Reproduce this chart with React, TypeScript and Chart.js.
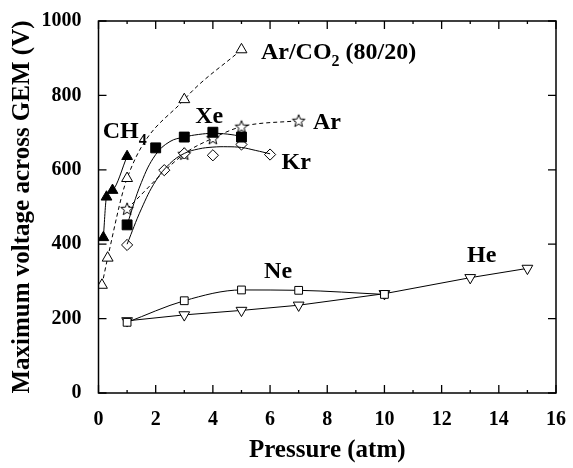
import React, { useEffect, useRef } from "react";
import { Chart, registerables } from "chart.js";

Chart.register(...registerables);

// ---- data (pressure in atm, max voltage in V) ----
const arco2Pressure = [0.12, 0.32, 1, 3, 5];
const arco2Voltage = [290, 363, 577, 789, 923];

const ch4Pressure = [0.17, 0.28, 0.49, 1];
const ch4Voltage = [418, 527, 545, 636];

const xePressure = [1, 2, 3, 4, 5];
const xeVoltage = [452, 659, 688, 701, 688];
const xeFitPressure = [1, 1.5, 2, 2.5, 3, 3.5, 4, 4.5, 5];
const xeFitVoltage = [452, 566, 641, 676, 688, 695, 698, 696, 690];

const arPressure = [1, 3, 4, 5, 7];
const arVoltage = [495, 643, 685, 716, 732];

const krPressure = [1, 2.3, 3, 4, 5, 6];
const krVoltage = [398, 599, 644, 639, 668, 641];
const krFitPressure = [1, 1.5, 2, 2.5, 3, 3.5, 4, 4.5, 5, 5.5, 6];
const krFitVoltage = [400, 495, 570, 617, 644, 656, 661, 662, 660, 652, 643];

const nePressure = [1, 3, 5, 7, 10];
const neVoltage = [190, 248, 277, 276, 265];

const hePressure = [1, 3, 5, 7, 10, 13, 15];
const heVoltage = [194, 210, 222, 236, 267, 310, 335];

const xRange = [0, 16];
const yRange = [0, 1000];
const xStep = 2;
const yStep = 200;

const xTitle = "Pressure (atm)";
const yTitle = "Maximum voltage across GEM (V)";

// series labels: main text, subscript, trailing text, anchored in data units
const labelTexts = ["Ar/CO", "Xe", "CH", "Ar", "Kr", "Ne", "He"];
const labelSubs = ["2", "", "4", "", "", "", ""];
const labelTails = [" (80/20)", "", "", "", "", "", ""];
const labelX = [5.68, 3.38, 0.15, 7.5, 6.4, 5.79, 12.89];
const labelY = [898, 725, 685, 709, 601, 309, 351];

const FONT = "'Liberation Serif', 'Times New Roman', Times, serif";

const zip = (xs: number[], ys: number[]) => xs.map((x, i) => ({ x, y: ys[i] }));

function makeStar(): HTMLCanvasElement {
  const c = document.createElement("canvas");
  c.width = 16;
  c.height = 16;
  const g = c.getContext("2d")!;
  const cx = 8, cy = 8.5, ro = 6.6, ri = 2.8;
  g.beginPath();
  for (let i = 0; i < 10; i++) {
    const r = i % 2 === 0 ? ro : ri;
    const a = -Math.PI / 2 + (i * Math.PI) / 5;
    const px = cx + r * Math.cos(a);
    const py = cy + r * Math.sin(a);
    if (i === 0) g.moveTo(px, py);
    else g.lineTo(px, py);
  }
  g.closePath();
  g.fillStyle = "#fff";
  g.fill();
  g.strokeStyle = "#000";
  g.lineWidth = 1;
  g.stroke();
  return c;
}

const framePlugin = {
  id: "frame",
  afterDraw(chart: any) {
    const { ctx, chartArea, scales } = chart;
    const { left, right, top, bottom } = chartArea;
    const x = scales.x;
    const y = scales.y;
    ctx.save();
    ctx.strokeStyle = "#000";
    ctx.lineWidth = 1.5;
    ctx.strokeRect(left, top, right - left, bottom - top);
    ctx.lineWidth = 1.3;
    ctx.beginPath();
    x.ticks.forEach((t: any) => {
      const p = x.getPixelForValue(t.value);
      ctx.moveTo(p, bottom);
      ctx.lineTo(p, bottom - 8);
      ctx.moveTo(p, top);
      ctx.lineTo(p, top + 8);
    });
    for (let v = x.min + xStep / 2; v < x.max; v += xStep) {
      const p = x.getPixelForValue(v);
      ctx.moveTo(p, bottom);
      ctx.lineTo(p, bottom - 3);
      ctx.moveTo(p, top);
      ctx.lineTo(p, top + 3);
    }
    y.ticks.forEach((t: any) => {
      const p = y.getPixelForValue(t.value);
      ctx.moveTo(left, p);
      ctx.lineTo(left + 8, p);
      ctx.moveTo(right, p);
      ctx.lineTo(right - 8, p);
    });
    ctx.stroke();
    ctx.restore();
  },
};

const labelPlugin = {
  id: "seriesLabels",
  afterDatasetsDraw(chart: any) {
    const { ctx, scales } = chart;
    const x = scales.x;
    const y = scales.y;
    ctx.save();
    ctx.fillStyle = "#000";
    ctx.textBaseline = "alphabetic";
    ctx.textAlign = "left";
    labelTexts.forEach((t, i) => {
      let px = x.getPixelForValue(labelX[i]);
      const py = y.getPixelForValue(labelY[i]);
      ctx.font = `bold 24px ${FONT}`;
      ctx.fillText(t, px, py);
      px += ctx.measureText(t).width;
      if (labelSubs[i]) {
        ctx.font = `bold 16px ${FONT}`;
        ctx.fillText(labelSubs[i], px, py + 7);
        px += ctx.measureText(labelSubs[i]).width;
      }
      if (labelTails[i]) {
        ctx.font = `bold 24px ${FONT}`;
        ctx.fillText(labelTails[i], px, py);
      }
    });
    ctx.restore();
  },
};

export default function App() {
  const ref = useRef<HTMLCanvasElement | null>(null);

  useEffect(() => {
    document.body.style.margin = "0";
    const canvas = ref.current;
    if (!canvas) return;
    const star = makeStar();
    const black = "#000";
    const white = "#fff";

    const chart = new Chart(canvas, {
      type: "scatter",
      data: {
        datasets: [
          {
            data: zip(arco2Pressure, arco2Voltage),
            showLine: true,
            cubicInterpolationMode: "monotone",
            borderColor: black,
            borderWidth: 1,
            borderDash: [4, 3],
            pointStyle: "triangle",
            pointRadius: 6.3,
            pointBackgroundColor: white,
            pointBorderColor: black,
            pointBorderWidth: 1,
          },
          {
            data: zip(ch4Pressure, ch4Voltage),
            showLine: true,
            cubicInterpolationMode: "monotone",
            borderColor: black,
            borderWidth: 1,
            pointStyle: "triangle",
            pointRadius: 6.2,
            pointBackgroundColor: black,
            pointBorderColor: black,
            pointBorderWidth: 1,
          },
          {
            data: zip(xeFitPressure, xeFitVoltage),
            showLine: true,
            tension: 0.4,
            borderColor: black,
            borderWidth: 1,
            pointRadius: 0,
          },
          {
            data: zip(xePressure, xeVoltage),
            showLine: false,
            pointStyle: "rect",
            pointRadius: 7,
            pointBackgroundColor: black,
            pointBorderColor: black,
            pointBorderWidth: 1,
          },
          {
            data: zip(krFitPressure, krFitVoltage),
            showLine: true,
            tension: 0.4,
            borderColor: black,
            borderWidth: 1,
            pointRadius: 0,
          },
          {
            data: zip(krPressure, krVoltage),
            showLine: false,
            pointStyle: "rectRot",
            pointRadius: 5.6,
            pointBackgroundColor: white,
            pointBorderColor: black,
            pointBorderWidth: 1,
          },
          {
            data: zip(arPressure, arVoltage),
            showLine: true,
            cubicInterpolationMode: "monotone",
            borderColor: black,
            borderWidth: 1,
            borderDash: [4, 3],
            pointStyle: star as any,
            pointRadius: 7,
          },
          {
            data: zip(nePressure, neVoltage),
            showLine: true,
            cubicInterpolationMode: "monotone",
            borderColor: black,
            borderWidth: 1,
            pointStyle: "rect",
            pointRadius: 5.5,
            pointBackgroundColor: white,
            pointBorderColor: black,
            pointBorderWidth: 1,
          },
          {
            data: zip(hePressure, heVoltage),
            showLine: true,
            tension: 0,
            borderColor: black,
            borderWidth: 1,
            pointStyle: "triangle",
            rotation: 180,
            pointRotation: 180,
            pointRadius: 6.2,
            pointBackgroundColor: white,
            pointBorderColor: black,
            pointBorderWidth: 1,
          } as any,
        ],
      },
      options: {
        responsive: false,
        animation: false,
        devicePixelRatio: 1,
        layout: { padding: { top: 16.5, right: 12.5, left: 0, bottom: 0 } },
        plugins: {
          legend: { display: false },
          tooltip: { enabled: false },
        },
        scales: {
          x: {
            type: "linear",
            min: xRange[0],
            max: xRange[1],
            grid: { display: false },
            border: { display: false },
            ticks: {
              stepSize: xStep,
              color: black,
              padding: 7,
              maxRotation: 0,
              callback: (v: any) => String(v),
              font: { family: FONT, size: 20, weight: "bold" },
            },
            title: {
              display: true,
              text: xTitle,
              color: black,
              padding: { top: 0, bottom: 2 },
              font: { family: FONT, size: 25, weight: "bold" },
            },
            afterFit: (s: any) => {
              s.height = 75;
            },
          },
          y: {
            type: "linear",
            min: yRange[0],
            max: yRange[1],
            grid: { display: false },
            border: { display: false },
            ticks: {
              stepSize: yStep,
              color: black,
              padding: 9,
              callback: (v: any) => String(v),
              font: { family: FONT, size: 20, weight: "bold" },
            },
            title: {
              display: true,
              text: yTitle,
              color: black,
              padding: { top: 8, bottom: 0 },
              font: { family: FONT, size: 25, weight: "bold" },
            },
            afterFit: (s: any) => {
              s.width = 98.5;
            },
          },
        },
      },
      plugins: [framePlugin, labelPlugin],
    });

    return () => chart.destroy();
  }, []);

  return <canvas ref={ref} width={573} height={468} style={{ display: "block" }} />;
}
